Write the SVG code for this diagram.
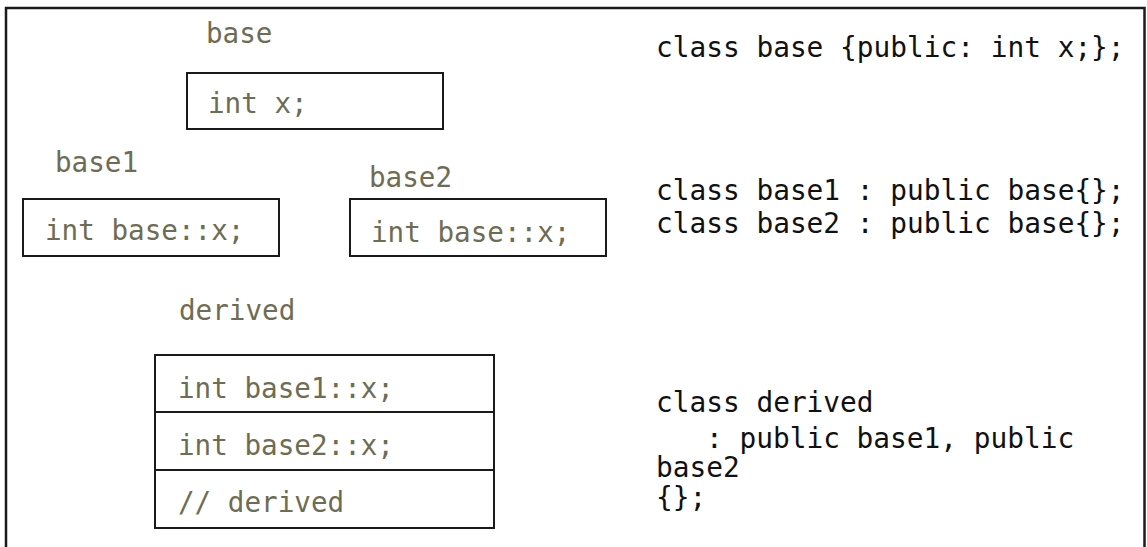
<svg xmlns="http://www.w3.org/2000/svg" width="1147" height="547" viewBox="0 0 1147 547">
  <style>
    .frame { fill: none; stroke: #1a1a1a; stroke-width: 2.5; }
    .box { fill: #ffffff; stroke: #1a1a1a; stroke-width: 2; }
    .sep { stroke: #1a1a1a; stroke-width: 2; }
    .lbl { font-family: "DejaVu Sans Mono", "Liberation Mono", monospace; font-size: 27.6px; fill: #6e6c52; }
    .code { font-family: "DejaVu Sans Mono", "Liberation Mono", monospace; font-size: 27.8px; fill: #111111; }
  </style>
  <rect width="1147" height="547" fill="#ffffff"/>
  <!-- outer frame, open at the bottom -->
  <rect class="frame" x="6" y="8" width="1138.5" height="560"/>

  <g id="base">
    <text class="lbl" x="206" y="43">base</text>
    <rect class="box" x="187" y="73" width="256" height="56"/>
    <text class="lbl" x="208" y="113">int x;</text>
  </g>

  <g id="base1">
    <text class="lbl" x="55" y="172">base1</text>
    <rect class="box" x="23" y="199" width="256" height="57"/>
    <text class="lbl" x="45" y="240">int base::x;</text>
  </g>

  <g id="base2">
    <text class="lbl" x="369" y="187">base2</text>
    <rect class="box" x="350" y="199" width="256" height="57"/>
    <text class="lbl" x="371" y="242">int base::x;</text>
  </g>

  <g id="derived">
    <text class="lbl" x="179" y="320">derived</text>
    <rect class="box" x="155" y="355" width="339" height="173"/>
    <line class="sep" x1="155" y1="412" x2="494" y2="412"/>
    <line class="sep" x1="155" y1="470" x2="494" y2="470"/>
    <text class="lbl" x="178" y="398">int base1::x;</text>
    <text class="lbl" x="178" y="455">int base2::x;</text>
    <text class="lbl" x="178" y="512">// derived</text>
  </g>

  <g id="code">
    <text class="code" x="656" y="57">class base {public: int x;};</text>
    <text class="code" x="656" y="200">class base1 : public base{};</text>
    <text class="code" x="656" y="233">class base2 : public base{};</text>
    <text class="code" x="656" y="412">class derived</text>
    <text class="code" x="706" y="448">: public base1, public</text>
    <text class="code" x="656" y="477">base2</text>
    <text class="code" x="656" y="507">{};</text>
  </g>
</svg>
